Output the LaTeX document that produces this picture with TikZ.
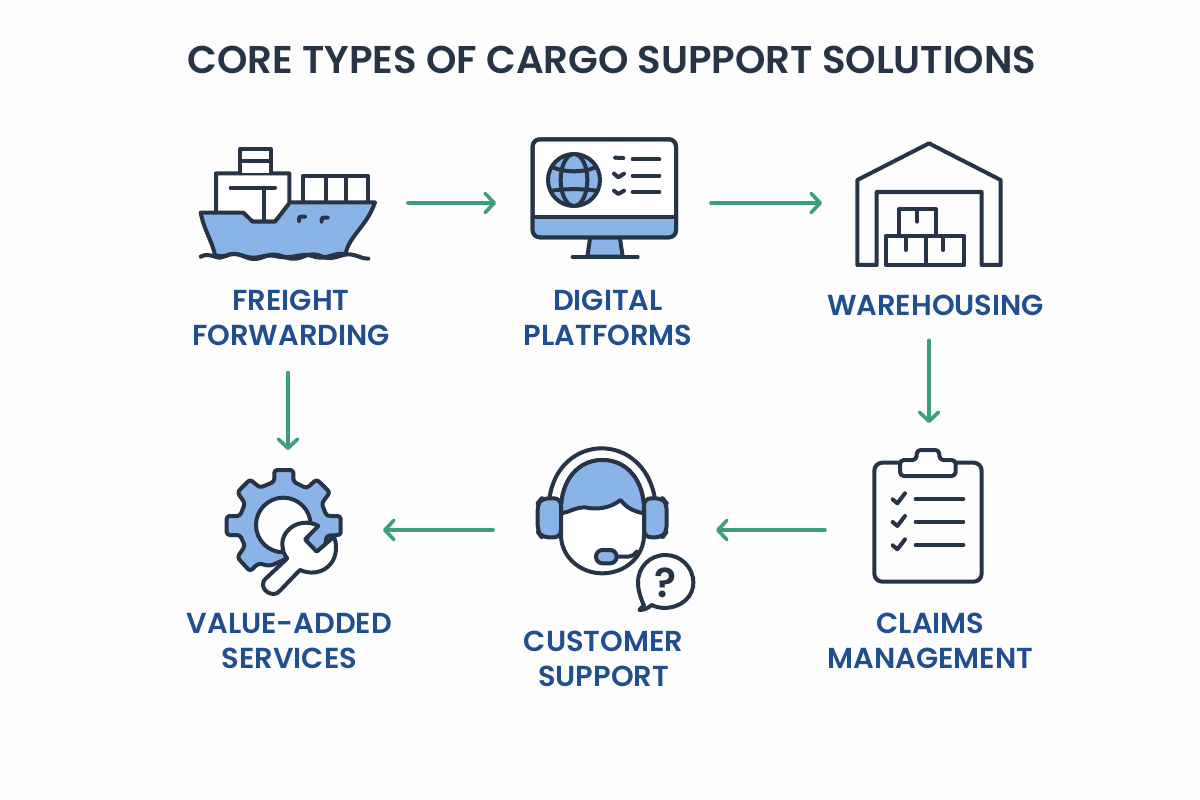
\documentclass[tikz,border=0pt]{standalone}
\usepackage{fontspec}
\setmainfont{Poppins}[BoldFont={Poppins SemiBold}]
\usetikzlibrary{arrows.meta,calc}
\definecolor{ink}{HTML}{263445}
\definecolor{sky}{HTML}{8AB4E8}
\definecolor{navy}{HTML}{1F4F8F}
\definecolor{teal}{HTML}{3D9E7A}
\definecolor{paper}{HTML}{FDFDFD}
\tikzset{
  icon/.style={line width=4pt,draw=ink,line join=round,line cap=round},
  iconbox/.style={inner sep=0pt,outer sep=0pt,minimum height=100pt},
  flow/.style={line width=3.6pt,draw=teal,line cap=round,-{Straight Barb[length=9pt,width=19pt,line width=3.6pt,round]}},
  lab/.style={inner sep=0pt,outer sep=0pt,align=center,text=navy,font=\fontsize{28.9}{34.5}\selectfont\bfseries},
  titletext/.style={inner sep=0pt,text=ink,font=\fontsize{38.7}{42}\selectfont\bfseries},
}
\begin{document}
\begin{tikzpicture}[x=1pt,y=-1pt]
\useasboundingbox (0,0) rectangle (1200,800);
\fill[paper] (0,0) rectangle (1200,800);

\node[titletext] (title) at (612,60) {CORE TYPES OF CARGO SUPPORT SOLUTIONS};

% layout nodes of the icons
\node[iconbox,minimum width=180pt] (ship) at (288,203) {};
\node[iconbox,minimum width=146pt] (screen) at (605,203) {};
\node[iconbox,minimum width=146pt] (ware) at (929,203) {};
\node[iconbox,minimum width=110pt] (clip) at (928,530) {};
\node[iconbox,minimum width=130pt] (agent) at (603,530) {};
\node[iconbox,minimum width=116pt] (gear) at (284,530) {};

% labels
\node[lab] (lfreight) at (291,318) {FREIGHT\\FORWARDING};
\node[lab] (ldigital) at (608,318) {DIGITAL\\PLATFORMS};
\node[lab] (lware) at (935.5,305) {WAREHOUSING};
\node[lab] (lclaims) at (930.5,641) {CLAIMS\\MANAGEMENT};
\node[lab] (lagent) at (603.5,659) {CUSTOMER\\SUPPORT};
\node[lab] (lvalue) at (289.5,641) {VALUE-ADDED\\SERVICES};

% ship
\begin{scope}[shift={(180,130)},x=1/3*1pt,y=-1/3*1pt]
  \draw[icon,fill=white] (108,245) -- (108,130) -- (328,130) -- (328,225) -- (285,275) -- (108,275) -- cycle;
  \draw[icon,fill=white] (180,130) -- (180,57) -- (272,57) -- (272,130);
  \draw[icon] (180,92) -- (272,92);
  \draw[icon] (152,173) -- (285,173);
  \draw[icon] (252,173) -- (252,272);
  \draw[icon,fill=white] (368,217) -- (368,138) -- (565,138) -- (565,217);
  \draw[icon] (437,138) -- (437,217) (498,138) -- (498,217);
  \draw[icon,fill=sky] (62,248) -- (190,248) -- (218,275) -- (285,275) -- (330,217) -- (585,217)
     .. controls (560,290) and (505,320) .. (497,372)
     .. controls (470,368) and (450,380) .. (430,383)
     .. controls (400,385) and (395,372) .. (370,375)
     .. controls (340,378) and (320,387) .. (285,378)
     .. controls (255,372) and (240,385) .. (215,383)
     .. controls (190,380) and (175,368) .. (150,373)
     .. controls (130,380) and (120,380) .. (105,375)
     .. controls (95,330) and (72,300) .. (62,248) -- cycle;
  \draw[icon] (62,380) .. controls (75,372) and (90,375) .. (105,380)
     .. controls (130,390) and (140,370) .. (165,372)
     .. controls (190,374) and (200,388) .. (225,387)
     .. controls (250,386) and (260,372) .. (285,374)
     .. controls (310,376) and (320,388) .. (345,386)
     .. controls (370,384) and (380,372) .. (400,373)
     .. controls (425,375) and (435,387) .. (455,384)
     .. controls (480,380) and (490,372) .. (510,373)
     .. controls (530,374) and (545,387) .. (565,386);
  \draw[icon] (357,273) -- (357,265) .. controls (357,261) and (360,260) .. (364,260) -- (375,260);
  \draw[icon] (425,275) -- (425,268) .. controls (425,264) and (428,263) .. (432,263) -- (443,263);
\end{scope}

% monitor
\begin{scope}[shift={(510,130)},x=1/3*1pt,y=-1/3*1pt]
  \draw[icon,fill=sky] (240,325) -- (232,380) -- (338,380) -- (330,325);
  \draw[icon] (188,381) -- (383,381);
  \draw[icon,fill=white,rounded corners=7pt] (68,28) rectangle (498,322);
  \fill[sky,rounded corners=6pt] (72,262) rectangle (494,318);
  \draw[icon,rounded corners=7pt] (68,28) rectangle (498,322);
  \draw[icon] (68,261) -- (498,261);
  \draw[icon,fill=sky] (192,150) circle (78);
  \draw[icon] (192,150) ellipse (40 and 78);
  \draw[icon] (128,112) .. controls (165,128) and (220,128) .. (256,112);
  \draw[icon] (126,182) .. controls (165,176) and (220,176) .. (258,182);
  \fill[ink] (316,83) circle (6);
  \draw[icon] (316,83) -- (340,84);
  \draw[icon] (312,131) -- (325,142) -- (342,131);
  \draw[icon] (312,182) -- (325,192) -- (342,182);
  \draw[icon] (368,88) -- (448,88) (368,137) -- (448,137) (368,186) -- (448,186);
\end{scope}

% warehouse
\begin{scope}[shift={(830,130)},x=1/3*1pt,y=-1/3*1pt]
  \draw[icon] (140,405) -- (82,405) -- (82,150) -- (297,40) -- (512,150) -- (512,405) -- (455,405) -- (455,186) -- (140,186) -- cycle;
  \draw[icon] (167,318) rectangle (288,405);
  \draw[icon] (288,318) rectangle (403,405);
  \draw[icon] (207,318) -- (207,237) -- (318,237) -- (318,318);
  \draw[icon] (262,237) -- (262,275);
  \draw[icon] (228,318) -- (228,360);
  \draw[icon] (340,318) -- (340,360);
\end{scope}

% clipboard
\begin{scope}[shift={(850,440)},x=1/3*1pt,y=-1/3*1pt]
  \draw[icon,rounded corners=8pt] (73,68) rectangle (395,425);
  \draw[icon,fill=white,rounded corners=4pt] (150,60) -- (150,108) -- (317,108) -- (317,60) -- (268,60) -- (268,30) -- (200,30) -- (200,60) -- cycle;
  \foreach \dy in {0,68,138}{
    \draw[icon] (128,178+\dy) -- (142,190+\dy) -- (165,160+\dy);
    \draw[icon] (197,177+\dy) -- (340,177+\dy);
  }
\end{scope}

% headset
\begin{scope}[shift={(500,440)},x=1/3*1pt,y=-1/3*1pt]
  \draw[icon] (148,178) .. controls (160,80) and (230,25) .. (305,25) .. controls (380,25) and (450,80) .. (465,178);
  \draw[icon,fill=sky,rounded corners=7pt] (183,175) -- (125,175) -- (113,190) -- (113,275) -- (125,292) -- (183,292) -- cycle;
  \draw[icon,fill=sky,rounded corners=7pt] (432,175) -- (488,175) -- (500,190) -- (500,275) -- (488,292) -- (432,292) -- cycle;
  \draw[icon,fill=white] (183,210) .. controls (183,120) and (235,60) .. (307,60) .. controls (380,60) and (432,120) .. (432,210)
     -- (432,285) .. controls (432,350) and (375,400) .. (307,400) .. controls (240,400) and (183,350) .. (183,285) -- cycle;
  \draw[icon,fill=sky] (183,220) .. controls (205,218) and (225,202) .. (255,202) .. controls (290,210) and (330,205) .. (362,180)
     .. controls (380,205) and (405,215) .. (432,220) -- (432,210) .. controls (432,120) and (380,60) .. (307,60) .. controls (235,60) and (183,120) .. (183,210) -- cycle;
  \draw[icon,fill=sky,rounded corners=6.5pt] (288,330) rectangle (350,370);
  \draw[icon] (350,350) -- (385,350) .. controls (395,350) and (402,345) .. (410,335);
  \draw[icon,fill=paper] (432,497) .. controls (428,500) and (422,505) .. (418,510) .. controls (435,510) and (445,503) .. (455,495)
     .. controls (505,520) and (580,490) .. (580,428) .. controls (580,380) and (540,345) .. (497,345)
     .. controls (450,345) and (414,380) .. (414,428) .. controls (414,455) and (425,480) .. (432,497) -- cycle;
  \node[inner sep=0pt,text=ink,font=\fontsize{41}{41}\selectfont\bfseries] (qm) at (497,428) {?};
\end{scope}

% gear and wrench
\begin{scope}[shift={(180,440)},x=1/3*1pt,y=-1/3*1pt]
  \draw[icon,fill=sky,rounded corners=3pt] (283,125) -- (283,90) -- (340,90) -- (340,125) -- (380,145) -- (410,118) -- (450,157) -- (425,190) -- (440,228) -- (482,228) -- (482,285) -- (440,287) -- (430,350) -- (322,355) -- (270,378) -- (235,370) -- (210,394) -- (172,352) -- (195,318) -- (180,285) -- (140,285) -- (140,228) -- (180,228) -- (195,190) -- (172,157) -- (210,118) -- (240,143) -- cycle;
  \draw[icon,fill=paper] (310,255) circle (82);
  \draw[icon,fill=white] (415,258) .. controls (370,232) and (310,260) .. (307,310)
     .. controls (307,330) and (312,345) .. (322,355) -- (255,418) .. controls (240,435) and (255,462) .. (282,462)
     .. controls (295,462) and (300,450) .. (360,390) .. controls (420,415) and (468,375) .. (468,325)
     .. controls (468,310) and (466,300) .. (462,290) -- (410,335) -- (375,298) -- cycle;
\end{scope}

% connectors
\draw[flow,shorten <=30pt,shorten >=36pt] (ship.east) -- (screen.west);
\draw[flow,shorten <=33pt,shorten >=34pt] (screen.east) -- (ware.west);
\draw[flow,shorten <=25pt,shorten >=57pt] (ware |- lware.south) -- (ware |- clip.north);
\draw[flow,shorten <=48pt,shorten >=48pt] (clip.west) -- (agent.east);
\draw[flow,shorten <=45pt,shorten >=41pt] (agent.west) -- (gear.east);
\draw[flow,shorten <=27pt,shorten >=30pt] (ship |- lfreight.south) -- (ship |- gear.north);
\end{tikzpicture}
\end{document}
